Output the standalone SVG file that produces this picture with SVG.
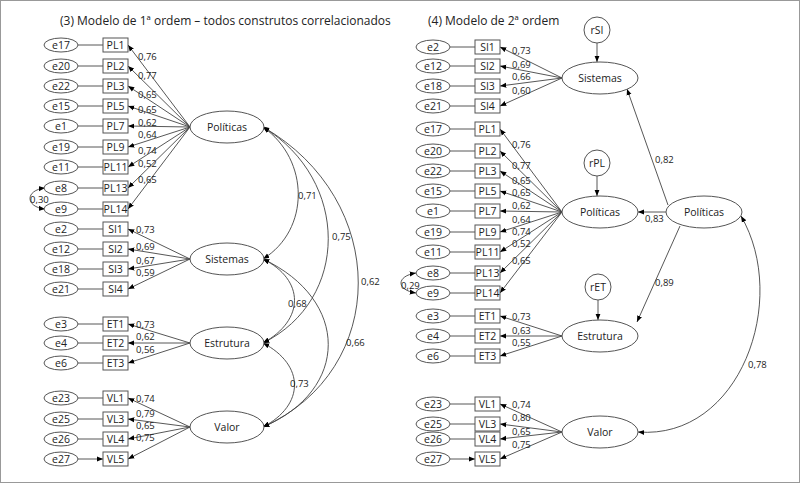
<svg xmlns="http://www.w3.org/2000/svg" width="800" height="483" viewBox="0 0 800 483">
<defs>
<marker id="a" viewBox="0 0 10 10" refX="10" refY="5" markerWidth="7" markerHeight="7" orient="auto-start-reverse"><path d="M0,1 L10,5 L0,9 z" fill="#000"/></marker>
<style>
text{font-family:"Open Sans","Liberation Sans",sans-serif;fill:#222}
.t{font-size:12px}.n{font-size:10.5px;text-anchor:middle}.l{font-size:9.5px}
.e{fill:#fff;stroke:#555;stroke-width:1}.b{fill:#fff;stroke:#555;stroke-width:1}
.c{stroke:#444;stroke-width:0.9;fill:none;marker-end:url(#a)}
.d{stroke:#444;stroke-width:0.9;fill:none;marker-end:url(#a);marker-start:url(#a)}
</style>
</defs>
<rect x="0.5" y="0.5" width="799" height="482" fill="#fff" stroke="#999"/>
<text class="t" x="60" y="25">(3) Modelo de 1ª ordem – todos construtos correlacionados</text>
<text class="t" x="428" y="25">(4) Modelo de 2ª ordem</text>
<g id="connectors">
<path class="c" d="M78,45H103M78,66H103M78,86H103M78,106H103M78,126H103M78,147H103M78,167H103M78,188H103M78,209H103M78,229H103M78,249H103M78,269H103M78,289H103M78,324H103M78,343H103M78,363H103M78,398H103M78,419H103M78,439H103M78,459H103"/>
<path class="c" d="M190,127L128,45"/><path class="c" d="M190,127L128,66"/><path class="c" d="M190,127L128,86"/><path class="c" d="M190,127L128,106"/><path class="c" d="M190,127L128,126"/><path class="c" d="M190,127L128,147"/><path class="c" d="M190,127L128,167"/><path class="c" d="M190,127L128,188"/><path class="c" d="M190,127L128,209"/>
<path class="c" d="M190,259L128,229"/><path class="c" d="M190,259L128,249"/><path class="c" d="M190,259L128,269"/><path class="c" d="M190,259L128,289"/>
<path class="c" d="M190,343L128,324"/><path class="c" d="M190,343L128,343"/><path class="c" d="M190,343L128,363"/>
<path class="c" d="M190,427L128,398"/><path class="c" d="M190,427L128,419"/><path class="c" d="M190,427L128,439"/><path class="c" d="M190,427L128,459"/>
<path class="d" d="M45,188C25,190 25,207 45,209"/>
<path class="d" d="M263,127C310,160 310,230 263,259"/>
<path class="d" d="M263,127C350,180 350,300 263,343"/>
<path class="d" d="M263,127C390,200 390,370 263,427"/>
<path class="d" d="M263,259C305,280 305,320 263,343"/>
<path class="d" d="M263,259C350,300 350,390 263,427"/>
<path class="d" d="M263,343C305,365 305,405 263,427"/>
<path class="c" d="M450,47H475M450,66H475M450,86H475M450,106H475M450,129H475M450,151H475M450,171H475M450,191H475M450,211H475M450,232H475M450,252H475M450,273H475M450,293H475M450,316H475M450,336H475M450,356H475M450,404H475M450,424H475M450,439H475M450,459H475"/>
<path class="c" d="M562,78L500,47"/><path class="c" d="M562,78L500,66"/><path class="c" d="M562,78L500,86"/><path class="c" d="M562,78L500,106"/>
<path class="c" d="M562,212L500,129"/><path class="c" d="M562,212L500,151"/><path class="c" d="M562,212L500,171"/><path class="c" d="M562,212L500,191"/><path class="c" d="M562,212L500,211"/><path class="c" d="M562,212L500,232"/><path class="c" d="M562,212L500,252"/><path class="c" d="M562,212L500,273"/><path class="c" d="M562,212L500,293"/>
<path class="c" d="M562,336L500,316"/><path class="c" d="M562,336L500,336"/><path class="c" d="M562,336L500,356"/>
<path class="c" d="M562,432L500,404"/><path class="c" d="M562,432L500,424"/><path class="c" d="M562,432L500,439"/><path class="c" d="M562,432L500,459"/>
<path class="d" d="M416,273C396,276 396,290 416,293"/>
<path class="c" d="M597,43V62"/><path class="c" d="M597,176V196"/><path class="c" d="M598,300V320"/>
<path class="c" d="M668,205L627,89"/>
<path class="c" d="M666,212H638"/>
<path class="c" d="M680,226L637,322"/>
<path class="d" d="M638,432C740,440 790,300 741,216"/>
</g>
<g class="l">
<text x="138" y="60">0,76</text><text x="138" y="79">0,77</text><text x="138" y="98">0,65</text><text x="138" y="113">0,65</text><text x="138" y="126">0,62</text><text x="138" y="138">0,64</text><text x="138" y="154">0,74</text><text x="138" y="167">0,52</text><text x="138" y="183">0,65</text>
<text x="30" y="203">0,30</text>
<text x="136" y="233">0,73</text><text x="136" y="250">0,69</text><text x="136" y="264">0,67</text><text x="136" y="276">0,59</text>
<text x="136" y="328">0,73</text><text x="136" y="340">0,62</text><text x="136" y="353">0,56</text>
<text x="136" y="402">0,74</text><text x="136" y="417">0,79</text><text x="136" y="429">0,65</text><text x="136" y="441">0,75</text>
<text x="298" y="199">0,71</text><text x="332" y="240">0,75</text><text x="361" y="285">0,62</text><text x="288" y="307">0,68</text><text x="346" y="346">0,66</text><text x="290" y="387">0,73</text>
<text x="512" y="54">0,73</text><text x="512" y="68">0,69</text><text x="512" y="80">0,66</text><text x="512" y="94">0,60</text>
<text x="512" y="148">0,76</text><text x="512" y="169">0,77</text><text x="512" y="184">0,65</text><text x="512" y="196">0,65</text><text x="512" y="209">0,62</text><text x="512" y="223">0,64</text><text x="512" y="235">0,74</text><text x="512" y="247">0,52</text><text x="512" y="264">0,65</text>
<text x="401" y="289">0,29</text>
<text x="512" y="320">0,73</text><text x="512" y="334">0,63</text><text x="512" y="346">0,55</text>
<text x="512" y="408">0,74</text><text x="512" y="421">0,80</text><text x="512" y="435">0,65</text><text x="512" y="448">0,75</text>
<text x="655" y="163">0,82</text><text x="645" y="222">0,83</text><text x="655" y="286">0,89</text><text x="748" y="368">0,78</text>
</g>
<g id="errorsL">
<g id="e17"><ellipse class="e" cx="61" cy="45" rx="17" ry="7"/><text class="n" x="61" y="49">e17</text></g>
<g id="e20"><ellipse class="e" cx="61" cy="66" rx="17" ry="7"/><text class="n" x="61" y="70">e20</text></g>
<g id="e22"><ellipse class="e" cx="61" cy="86" rx="17" ry="7"/><text class="n" x="61" y="90">e22</text></g>
<g id="e15"><ellipse class="e" cx="61" cy="106" rx="17" ry="7"/><text class="n" x="61" y="110">e15</text></g>
<g id="e1"><ellipse class="e" cx="61" cy="126" rx="17" ry="7"/><text class="n" x="61" y="130">e1</text></g>
<g id="e19"><ellipse class="e" cx="61" cy="147" rx="17" ry="7"/><text class="n" x="61" y="151">e19</text></g>
<g id="e11"><ellipse class="e" cx="61" cy="167" rx="17" ry="7"/><text class="n" x="61" y="171">e11</text></g>
<g id="e8"><ellipse class="e" cx="61" cy="188" rx="17" ry="7"/><text class="n" x="61" y="192">e8</text></g>
<g id="e9"><ellipse class="e" cx="61" cy="209" rx="17" ry="7"/><text class="n" x="61" y="213">e9</text></g>
<g id="e2"><ellipse class="e" cx="61" cy="229" rx="17" ry="7"/><text class="n" x="61" y="233">e2</text></g>
<g id="e12"><ellipse class="e" cx="61" cy="249" rx="17" ry="7"/><text class="n" x="61" y="253">e12</text></g>
<g id="e18"><ellipse class="e" cx="61" cy="269" rx="17" ry="7"/><text class="n" x="61" y="273">e18</text></g>
<g id="e21"><ellipse class="e" cx="61" cy="289" rx="17" ry="7"/><text class="n" x="61" y="293">e21</text></g>
<g id="e3"><ellipse class="e" cx="61" cy="324" rx="17" ry="7"/><text class="n" x="61" y="328">e3</text></g>
<g id="e4"><ellipse class="e" cx="61" cy="343" rx="17" ry="7"/><text class="n" x="61" y="347">e4</text></g>
<g id="e6"><ellipse class="e" cx="61" cy="363" rx="17" ry="7"/><text class="n" x="61" y="367">e6</text></g>
<g id="e23"><ellipse class="e" cx="61" cy="398" rx="17" ry="7"/><text class="n" x="61" y="402">e23</text></g>
<g id="e25"><ellipse class="e" cx="61" cy="419" rx="17" ry="7"/><text class="n" x="61" y="423">e25</text></g>
<g id="e26"><ellipse class="e" cx="61" cy="439" rx="17" ry="7"/><text class="n" x="61" y="443">e26</text></g>
<g id="e27"><ellipse class="e" cx="61" cy="459" rx="17" ry="7"/><text class="n" x="61" y="463">e27</text></g>
</g>
<g id="itemsL">
<g id="PL1"><rect class="b" x="103" y="38" width="25" height="14"/><text class="n" x="115.5" y="49">PL1</text></g>
<g id="PL2"><rect class="b" x="103" y="59" width="25" height="14"/><text class="n" x="115.5" y="70">PL2</text></g>
<g id="PL3"><rect class="b" x="103" y="79" width="25" height="14"/><text class="n" x="115.5" y="90">PL3</text></g>
<g id="PL5"><rect class="b" x="103" y="99" width="25" height="14"/><text class="n" x="115.5" y="110">PL5</text></g>
<g id="PL7"><rect class="b" x="103" y="119" width="25" height="14"/><text class="n" x="115.5" y="130">PL7</text></g>
<g id="PL9"><rect class="b" x="103" y="140" width="25" height="14"/><text class="n" x="115.5" y="151">PL9</text></g>
<g id="PL11"><rect class="b" x="103" y="160" width="25" height="14"/><text class="n" x="115.5" y="171">PL11</text></g>
<g id="PL13"><rect class="b" x="103" y="181" width="25" height="14"/><text class="n" x="115.5" y="192">PL13</text></g>
<g id="PL14"><rect class="b" x="103" y="202" width="25" height="14"/><text class="n" x="115.5" y="213">PL14</text></g>
<g id="SI1"><rect class="b" x="103" y="222" width="25" height="14"/><text class="n" x="115.5" y="233">SI1</text></g>
<g id="SI2"><rect class="b" x="103" y="242" width="25" height="14"/><text class="n" x="115.5" y="253">SI2</text></g>
<g id="SI3"><rect class="b" x="103" y="262" width="25" height="14"/><text class="n" x="115.5" y="273">SI3</text></g>
<g id="SI4"><rect class="b" x="103" y="282" width="25" height="14"/><text class="n" x="115.5" y="293">SI4</text></g>
<g id="ET1"><rect class="b" x="103" y="317" width="25" height="14"/><text class="n" x="115.5" y="328">ET1</text></g>
<g id="ET2"><rect class="b" x="103" y="336" width="25" height="14"/><text class="n" x="115.5" y="347">ET2</text></g>
<g id="ET3"><rect class="b" x="103" y="356" width="25" height="14"/><text class="n" x="115.5" y="367">ET3</text></g>
<g id="VL1"><rect class="b" x="103" y="391" width="25" height="14"/><text class="n" x="115.5" y="402">VL1</text></g>
<g id="VL3"><rect class="b" x="103" y="412" width="25" height="14"/><text class="n" x="115.5" y="423">VL3</text></g>
<g id="VL4"><rect class="b" x="103" y="432" width="25" height="14"/><text class="n" x="115.5" y="443">VL4</text></g>
<g id="VL5"><rect class="b" x="103" y="452" width="25" height="14"/><text class="n" x="115.5" y="463">VL5</text></g>
</g>
<g id="latentL">
<g id="Politicas1"><ellipse class="e" cx="227" cy="127" rx="37" ry="16"/><text class="n" x="227" y="131">Políticas</text></g>
<g id="Sistemas1"><ellipse class="e" cx="227" cy="259" rx="37" ry="16"/><text class="n" x="227" y="263">Sistemas</text></g>
<g id="Estrutura1"><ellipse class="e" cx="227" cy="343" rx="37" ry="16"/><text class="n" x="227" y="347">Estrutura</text></g>
<g id="Valor1"><ellipse class="e" cx="227" cy="427" rx="37" ry="16"/><text class="n" x="227" y="431">Valor</text></g>
</g>
<g id="errorsR">
<g id="r-e2"><ellipse class="e" cx="433" cy="47" rx="17" ry="7"/><text class="n" x="433" y="51">e2</text></g>
<g id="r-e12"><ellipse class="e" cx="433" cy="66" rx="17" ry="7"/><text class="n" x="433" y="70">e12</text></g>
<g id="r-e18"><ellipse class="e" cx="433" cy="86" rx="17" ry="7"/><text class="n" x="433" y="90">e18</text></g>
<g id="r-e21"><ellipse class="e" cx="433" cy="106" rx="17" ry="7"/><text class="n" x="433" y="110">e21</text></g>
<g id="r-e17"><ellipse class="e" cx="433" cy="129" rx="17" ry="7"/><text class="n" x="433" y="133">e17</text></g>
<g id="r-e20"><ellipse class="e" cx="433" cy="151" rx="17" ry="7"/><text class="n" x="433" y="155">e20</text></g>
<g id="r-e22"><ellipse class="e" cx="433" cy="171" rx="17" ry="7"/><text class="n" x="433" y="175">e22</text></g>
<g id="r-e15"><ellipse class="e" cx="433" cy="191" rx="17" ry="7"/><text class="n" x="433" y="195">e15</text></g>
<g id="r-e1"><ellipse class="e" cx="433" cy="211" rx="17" ry="7"/><text class="n" x="433" y="215">e1</text></g>
<g id="r-e19"><ellipse class="e" cx="433" cy="232" rx="17" ry="7"/><text class="n" x="433" y="236">e19</text></g>
<g id="r-e11"><ellipse class="e" cx="433" cy="252" rx="17" ry="7"/><text class="n" x="433" y="256">e11</text></g>
<g id="r-e8"><ellipse class="e" cx="433" cy="273" rx="17" ry="7"/><text class="n" x="433" y="277">e8</text></g>
<g id="r-e9"><ellipse class="e" cx="433" cy="293" rx="17" ry="7"/><text class="n" x="433" y="297">e9</text></g>
<g id="r-e3"><ellipse class="e" cx="433" cy="316" rx="17" ry="7"/><text class="n" x="433" y="320">e3</text></g>
<g id="r-e4"><ellipse class="e" cx="433" cy="336" rx="17" ry="7"/><text class="n" x="433" y="340">e4</text></g>
<g id="r-e6"><ellipse class="e" cx="433" cy="356" rx="17" ry="7"/><text class="n" x="433" y="360">e6</text></g>
<g id="r-e23"><ellipse class="e" cx="433" cy="404" rx="17" ry="7"/><text class="n" x="433" y="408">e23</text></g>
<g id="r-e25"><ellipse class="e" cx="433" cy="424" rx="17" ry="7"/><text class="n" x="433" y="428">e25</text></g>
<g id="r-e26"><ellipse class="e" cx="433" cy="439" rx="17" ry="7"/><text class="n" x="433" y="443">e26</text></g>
<g id="r-e27"><ellipse class="e" cx="433" cy="459" rx="17" ry="7"/><text class="n" x="433" y="463">e27</text></g>
</g>
<g id="itemsR">
<g id="r-SI1"><rect class="b" x="475" y="40" width="25" height="14"/><text class="n" x="487.5" y="51">SI1</text></g>
<g id="r-SI2"><rect class="b" x="475" y="59" width="25" height="14"/><text class="n" x="487.5" y="70">SI2</text></g>
<g id="r-SI3"><rect class="b" x="475" y="79" width="25" height="14"/><text class="n" x="487.5" y="90">SI3</text></g>
<g id="r-SI4"><rect class="b" x="475" y="99" width="25" height="14"/><text class="n" x="487.5" y="110">SI4</text></g>
<g id="r-PL1"><rect class="b" x="475" y="122" width="25" height="14"/><text class="n" x="487.5" y="133">PL1</text></g>
<g id="r-PL2"><rect class="b" x="475" y="144" width="25" height="14"/><text class="n" x="487.5" y="155">PL2</text></g>
<g id="r-PL3"><rect class="b" x="475" y="164" width="25" height="14"/><text class="n" x="487.5" y="175">PL3</text></g>
<g id="r-PL5"><rect class="b" x="475" y="184" width="25" height="14"/><text class="n" x="487.5" y="195">PL5</text></g>
<g id="r-PL7"><rect class="b" x="475" y="204" width="25" height="14"/><text class="n" x="487.5" y="215">PL7</text></g>
<g id="r-PL9"><rect class="b" x="475" y="225" width="25" height="14"/><text class="n" x="487.5" y="236">PL9</text></g>
<g id="r-PL11"><rect class="b" x="475" y="245" width="25" height="14"/><text class="n" x="487.5" y="256">PL11</text></g>
<g id="r-PL13"><rect class="b" x="475" y="266" width="25" height="14"/><text class="n" x="487.5" y="277">PL13</text></g>
<g id="r-PL14"><rect class="b" x="475" y="286" width="25" height="14"/><text class="n" x="487.5" y="297">PL14</text></g>
<g id="r-ET1"><rect class="b" x="475" y="309" width="25" height="14"/><text class="n" x="487.5" y="320">ET1</text></g>
<g id="r-ET2"><rect class="b" x="475" y="329" width="25" height="14"/><text class="n" x="487.5" y="340">ET2</text></g>
<g id="r-ET3"><rect class="b" x="475" y="349" width="25" height="14"/><text class="n" x="487.5" y="360">ET3</text></g>
<g id="r-VL1"><rect class="b" x="475" y="397" width="25" height="14"/><text class="n" x="487.5" y="408">VL1</text></g>
<g id="r-VL3"><rect class="b" x="475" y="417" width="25" height="14"/><text class="n" x="487.5" y="428">VL3</text></g>
<g id="r-VL4"><rect class="b" x="475" y="432" width="25" height="14"/><text class="n" x="487.5" y="443">VL4</text></g>
<g id="r-VL5"><rect class="b" x="475" y="452" width="25" height="14"/><text class="n" x="487.5" y="463">VL5</text></g>
</g>
<g id="latentR">
<g id="rSI"><circle class="e" cx="597" cy="30" r="13"/><text class="n" x="597" y="34">rSI</text></g>
<g id="rPL"><circle class="e" cx="597" cy="163" r="13"/><text class="n" x="597" y="167">rPL</text></g>
<g id="rET"><circle class="e" cx="598" cy="287" r="13"/><text class="n" x="598" y="291">rET</text></g>
<g id="Sistemas2"><ellipse class="e" cx="600" cy="78" rx="38" ry="16"/><text class="n" x="600" y="82">Sistemas</text></g>
<g id="Politicas2"><ellipse class="e" cx="600" cy="212" rx="38" ry="16"/><text class="n" x="600" y="216">Políticas</text></g>
<g id="PoliticasG"><ellipse class="e" cx="704" cy="212" rx="38" ry="16"/><text class="n" x="704" y="216">Políticas</text></g>
<g id="Estrutura2"><ellipse class="e" cx="600" cy="336" rx="38" ry="16"/><text class="n" x="600" y="340">Estrutura</text></g>
<g id="Valor2"><ellipse class="e" cx="600" cy="432" rx="38" ry="16"/><text class="n" x="600" y="436">Valor</text></g>
</g>
</svg>
